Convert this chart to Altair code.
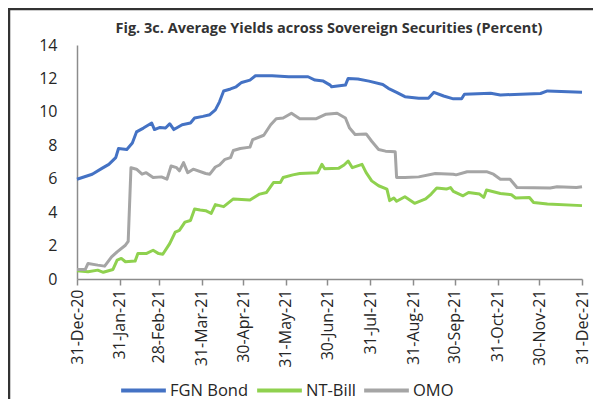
import altair as alt
import pandas as pd

series_names = ["FGN Bond", "NT-Bill", "OMO"]
series_colors = ["#4472C4", "#8FD14F", "#A5A5A5"]

fgn_day = [0, 11, 18, 23, 28, 30, 36, 40, 43, 48, 54, 56, 60, 64, 67, 70, 76, 82, 85, 91,
           96, 100, 103, 106, 111, 115, 119, 125, 129, 141, 153, 167, 172, 178, 183, 184, 194, 196, 203, 211,
           221, 225, 231, 237, 247, 254, 258, 265, 272, 278, 280, 299, 306, 335, 340, 365]
fgn_val = [5.97, 6.27, 6.62, 6.86, 7.26, 7.81, 7.75, 8.14, 8.8, 9.03, 9.33, 8.94, 9.07, 9.03, 9.29, 8.94, 9.23, 9.33, 9.63, 9.73,
           9.83, 10.12, 10.6, 11.25, 11.37, 11.5, 11.76, 11.9, 12.16, 12.16, 12.1, 12.1, 11.9, 11.84, 11.6, 11.5, 11.6, 12.0, 11.96, 11.84,
           11.64, 11.41, 11.17, 10.91, 10.81, 10.81, 11.17, 10.95, 10.78, 10.78, 11.05, 11.11, 11.01, 11.1, 11.25, 11.17]

ntb_day = [0, 8, 15, 19, 26, 29, 32, 35, 42, 44, 50, 55, 59, 62, 67, 71, 74, 78, 82, 85,
           89, 93, 97, 100, 106, 113, 125, 132, 137, 142, 147, 149, 156, 161, 174, 177, 179, 189, 193, 196,
           199, 206, 209, 213, 218, 224, 226, 229, 231, 237, 244, 252, 256, 260, 267, 270, 272, 279, 283, 291,
           294, 296, 306, 314, 317, 327, 330, 340, 365]
ntb_val = [0.49, 0.43, 0.53, 0.4, 0.57, 1.13, 1.23, 1.03, 1.07, 1.52, 1.52, 1.72, 1.52, 1.48, 2.12, 2.81, 2.91, 3.4, 3.5, 4.19,
           4.13, 4.09, 3.93, 4.45, 4.33, 4.79, 4.73, 5.08, 5.18, 5.77, 5.77, 6.07, 6.23, 6.31, 6.36, 6.86, 6.6, 6.62, 6.82, 7.06,
           6.66, 6.86, 6.36, 5.87, 5.58, 5.38, 4.69, 4.85, 4.65, 4.92, 4.53, 4.79, 5.08, 5.44, 5.38, 5.47, 5.24, 4.98, 5.18, 5.08,
           4.88, 5.32, 5.12, 5.04, 4.85, 4.88, 4.58, 4.49, 4.39]

omo_day = [0, 6, 8, 15, 20, 25, 29, 35, 37, 39, 43, 47, 50, 55, 61, 65, 68, 72, 74, 77,
           80, 84, 93, 96, 100, 103, 107, 111, 113, 118, 125, 127, 135, 140, 144, 149, 155, 161, 173, 180,
           188, 194, 197, 201, 209, 213, 218, 223, 230, 231, 237, 247, 259, 272, 274, 282, 296, 301, 306, 313,
           318, 342, 347, 361, 365]
omo_val = [0.57, 0.57, 0.93, 0.83, 0.77, 1.32, 1.62, 2.02, 2.25, 6.66, 6.57, 6.27, 6.36, 6.07, 6.11, 5.97, 6.76, 6.66, 6.47, 6.96,
           6.36, 6.57, 6.31, 6.27, 6.7, 6.82, 7.16, 7.26, 7.69, 7.81, 7.89, 8.34, 8.6, 9.23, 9.59, 9.63, 9.92, 9.59, 9.59, 9.86,
           9.92, 9.63, 9.03, 8.64, 8.68, 8.24, 7.75, 7.65, 7.61, 6.07, 6.07, 6.11, 6.31, 6.27, 6.23, 6.42, 6.42, 6.27, 5.97, 5.97,
           5.47, 5.44, 5.52, 5.47, 5.52]

tick_days = [0, 31, 59, 90, 120, 151, 181, 212, 243, 273, 304, 334, 365]
tick_labels = ["31-Dec-20", "31-Jan-21", "28-Feb-21", "31-Mar-21", "30-Apr-21", "31-May-21",
               "30-Jun-21", "31-Jul-21", "31-Aug-21", "30-Sep-21", "31-Oct-21", "30-Nov-21", "31-Dec-21"]
y_ticks = [0, 2, 4, 6, 8, 10, 12, 14]

title_text = "Fig. 3c. Average Yields across Sovereign Securities (Percent)"

rows = []
for name, days, vals in [("FGN Bond", fgn_day, fgn_val), ("NT-Bill", ntb_day, ntb_val), ("OMO", omo_day, omo_val)]:
    for d, v in zip(days, vals):
        rows.append({"series": name, "day": d, "value": v})
df = pd.DataFrame(rows)

label_expr = ("[" + ",".join("'" + t + "'" for t in tick_labels) + "][indexof(["
              + ",".join(str(d) for d in tick_days) + "], datum.value)]")

FONT = "Open Sans"

lines = alt.Chart(df).mark_line(strokeWidth=3, strokeJoin="round").encode(
    x=alt.X("day:Q",
            scale=alt.Scale(domain=[0, 365], nice=False, zero=False),
            axis=alt.Axis(values=tick_days, labelExpr=label_expr, labelAngle=270, title=None,
                          grid=False, tickSize=6, labelPadding=4, labelFontSize=16,
                          labelFont=FONT, labelColor="#262626", domainColor="#8c8c8c",
                          tickColor="#8c8c8c", domainWidth=1.5, tickWidth=1.5)),
    y=alt.Y("value:Q",
            scale=alt.Scale(domain=[0, 14], nice=False),
            axis=alt.Axis(values=y_ticks, title=None, grid=False, ticks=False, tickSize=0,
                          labelPadding=20, labelFontSize=16, labelFont=FONT, labelColor="#262626",
                          domainColor="#8c8c8c", domainWidth=1.5)),
    color=alt.Color("series:N",
                    scale=alt.Scale(domain=series_names, range=series_colors),
                    legend=alt.Legend(title=None, orient="none", direction="horizontal",
                                      legendX=42, legendY=321, symbolType="stroke",
                                      symbolSize=2000, symbolStrokeWidth=4,
                                      labelFontSize=16.5, labelFont=FONT, labelColor="#262626",
                                      labelOffset=2, columnPadding=0)),
)

frame_df = pd.DataFrame({"k": [0]})
frame_left = alt.Chart(frame_df).mark_rule(color="#333333", strokeWidth=2.5).encode(
    x=alt.value(-68), y=alt.value(-37), y2=alt.value(370))
frame_top = alt.Chart(frame_df).mark_rule(color="#333333", strokeWidth=2.5).encode(
    x=alt.value(-69), x2=alt.value(540), y=alt.value(-36))

title_df = pd.DataFrame({"t": [title_text]})
title_mark = alt.Chart(title_df).mark_text(
    font=FONT, fontSize=14.5, fontWeight="bold", color="#333333", align="center", baseline="middle"
).encode(text="t:N", x=alt.value(252), y=alt.value(-16))

chart = alt.layer(frame_left, frame_top, title_mark, lines).properties(
    width=505, height=234,
    autosize=alt.AutoSizeParams(type="none"),
    padding={"left": 69, "top": 37, "right": 11, "bottom": 120},
).configure_view(stroke=None)

chart.save("out.html", embed_options={"renderer": "svg", "actions": False})
